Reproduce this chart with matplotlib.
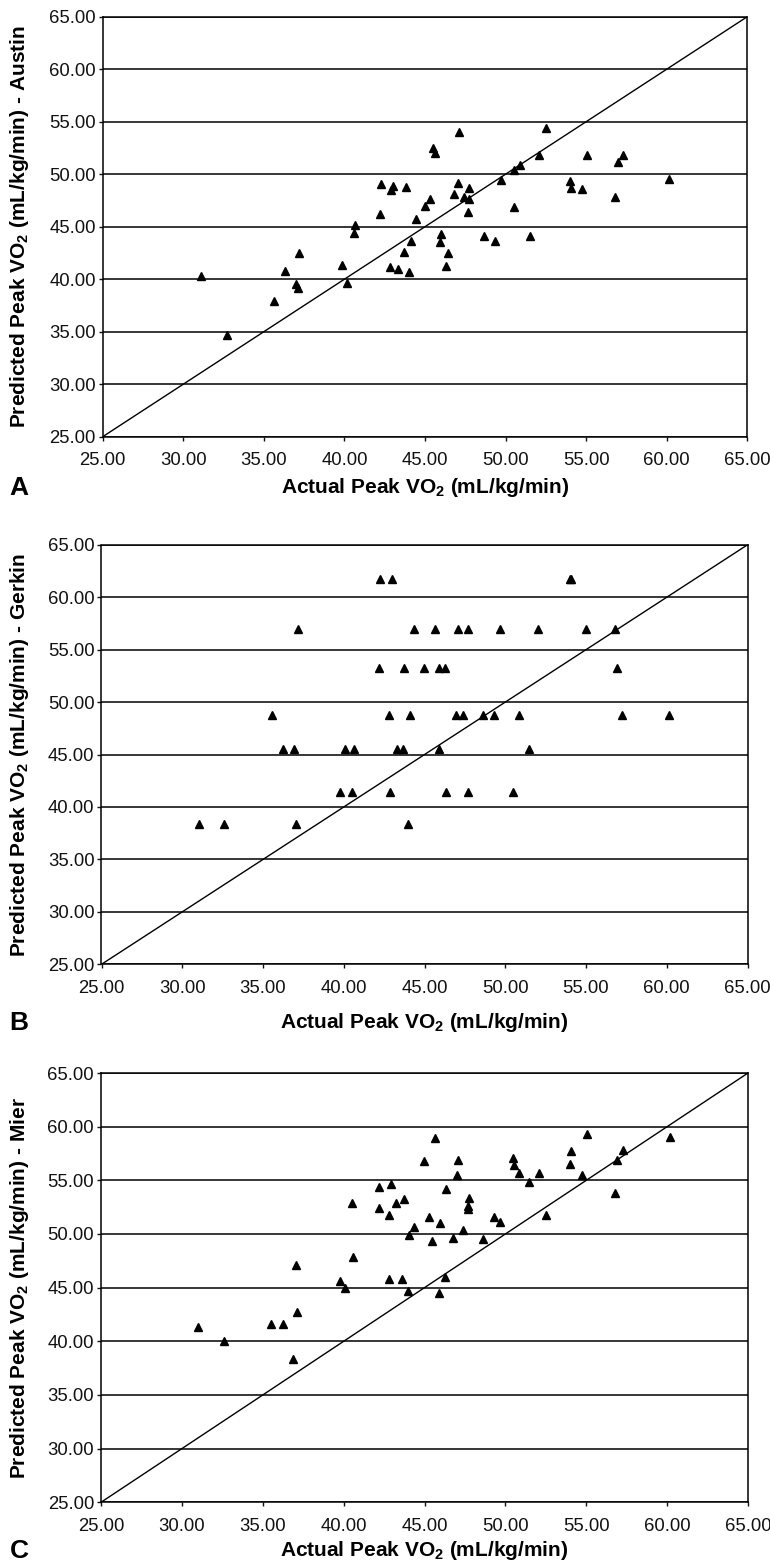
import matplotlib
matplotlib.use("Agg")
import matplotlib.pyplot as plt

plt.rcParams['font.family'] = ['Liberation Sans', 'DejaVu Sans']
plt.rcParams['mathtext.fontset'] = 'custom'
plt.rcParams['mathtext.rm'] = 'Liberation Sans'
plt.rcParams['mathtext.bf'] = 'Liberation Sans:bold'

# Panel A - Austin
actual_a = [31.1, 32.69, 35.64, 36.32, 36.98, 37.15, 37.21, 39.84, 40.15, 40.6,
            40.68, 42.21, 42.27, 42.85, 42.9, 43.0, 43.33, 43.68, 43.85, 44.0,
            44.11, 44.42, 45.02, 45.29, 45.5, 45.64, 45.91, 45.97, 46.3, 46.41,
            46.82, 47.05, 47.13, 47.42, 47.69, 47.71, 47.75, 48.66, 49.36, 49.71,
            50.52, 50.52, 50.87, 51.49, 52.07, 52.53, 53.97, 54.09, 54.73, 55.03,
            56.8, 56.95, 57.28, 60.17]
austin = [40.3, 34.69, 37.92, 40.78, 39.5, 39.2, 42.5, 41.35, 39.6, 44.4,
          45.16, 46.2, 49.04, 41.16, 48.5, 48.9, 40.94, 42.6, 48.75, 40.7,
          43.6, 45.7, 46.97, 47.67, 52.47, 51.99, 43.57, 44.3, 41.29, 42.5,
          48.08, 49.13, 54.05, 47.83, 46.4, 48.71, 47.67, 44.14, 43.67, 49.45,
          50.43, 46.85, 50.88, 44.14, 51.86, 54.43, 49.35, 48.69, 48.59, 51.86,
          47.86, 51.17, 51.86, 49.57]

# Panel B - Gerkin
actual_b = [31.03, 32.6, 35.56, 36.26, 36.92, 37.07, 37.15, 39.77, 40.08, 40.54,
            40.62, 42.17, 42.23, 42.81, 42.87, 42.98, 43.27, 43.64, 43.76, 43.97,
            44.09, 44.37, 44.96, 45.62, 45.87, 45.91, 46.26, 46.36, 46.98, 47.09,
            47.36, 47.67, 47.71, 48.62, 49.32, 49.67, 50.48, 50.85, 51.45, 52.05,
            54.0, 54.1, 55.01, 56.78, 56.93, 57.26, 60.17]
gerkin = [38.4, 38.4, 48.8, 45.5, 45.5, 38.4, 57.0, 41.4, 45.5, 41.4,
          45.5, 53.3, 61.7, 48.8, 41.4, 61.7, 45.5, 45.5, 53.3, 38.4,
          48.8, 57.0, 53.3, 57.0, 45.5, 53.3, 53.3, 41.4, 48.8, 57.0,
          48.8, 57.0, 41.4, 48.8, 48.8, 57.0, 41.4, 48.8, 45.5, 57.0,
          61.7, 61.7, 57.0, 57.0, 53.3, 48.8, 48.8]

# Panel C - Mier
actual_c = [30.99, 32.58, 35.54, 36.24, 36.9, 37.05, 37.13, 39.76, 40.08, 40.54,
            40.6, 42.17, 42.21, 42.79, 42.83, 42.95, 43.26, 43.62, 43.76, 43.95,
            44.07, 44.36, 44.96, 45.25, 45.48, 45.62, 45.87, 45.93, 46.26, 46.36,
            46.78, 47.0, 47.07, 47.38, 47.67, 47.71, 47.73, 48.64, 49.32, 49.67,
            50.48, 50.52, 50.87, 51.47, 52.05, 52.5, 53.97, 54.08, 54.74, 55.03,
            56.8, 56.93, 57.28, 60.19]
mier = [41.36, 40.06, 41.61, 41.61, 38.38, 47.11, 42.7, 45.59, 44.94, 52.86,
        47.83, 54.38, 52.42, 45.78, 51.8, 54.63, 52.89, 45.78, 53.23, 44.69,
        49.94, 50.65, 56.8, 51.55, 49.32, 58.97, 44.47, 51.05, 45.99, 54.19,
        49.65, 55.53, 56.9, 50.37, 52.36, 52.64, 53.33, 49.56, 51.55, 51.12,
        57.06, 56.43, 55.65, 54.85, 55.65, 51.8, 56.52, 57.76, 55.47, 59.32,
        53.82, 56.9, 57.83, 59.07]

ticks = [25, 30, 35, 40, 45, 50, 55, 60, 65]
tick_labels = [f"{t:.2f}" for t in ticks]

panels = [
    ("A", actual_a, austin, "Austin"),
    ("B", actual_b, gerkin, "Gerkin"),
    ("C", actual_c, mier, "Mier"),
]

W, H = 770, 1565
# axes boxes in pixels: left, top, right, bottom ; xlabel centre y
boxes = [
    (102.7, 16.7, 747.3, 436.7, 487.5),
    (101.5, 544.8, 747.5, 964.3, 1022.5),
    (101.0, 1073.0, 748.0, 1502.3, 1551.0),
]

fig = plt.figure(figsize=(W / 100, H / 100), dpi=100)

for (letter, xs, ys, name), (l, t, r, b, ly) in zip(panels, boxes):
    ax = fig.add_axes([l / W, 1 - b / H, (r - l) / W, (b - t) / H])
    ax.set_xlim(25, 65)
    ax.set_ylim(25, 65)
    ax.set_xticks(ticks)
    ax.set_xticklabels(tick_labels)
    ax.set_yticks(ticks)
    ax.set_yticklabels(tick_labels)
    ax.yaxis.grid(True, color='black', linewidth=1.1)
    ax.set_axisbelow(True)
    ax.tick_params(axis='both', direction='out', length=3, width=1,
                   labelsize=13.3, colors='#111111')
    ax.tick_params(axis='x', pad=8)
    ax.tick_params(axis='y', pad=2)
    for s in ax.spines.values():
        s.set_linewidth(1.1)
        s.set_color('black')

    # line of identity
    ax.plot([25, 65], [25, 65], color='black', linewidth=1.0)
    ax.plot(xs, ys, linestyle='none', marker='^', markersize=6,
            color='black')

    ax.set_xlabel(r'Actual Peak VO$_\mathbf{2}$ (mL/kg/min)',
                  fontsize=15, fontweight='bold')
    ax.xaxis.set_label_coords(0.5, (b - ly) / (b - t))
    ax.xaxis.label.set_va('center')
    ax.set_ylabel(r'Predicted Peak VO$_\mathbf{2}$ (mL/kg/min) - ' + name,
                  fontsize=15, fontweight='bold')
    ax.yaxis.set_label_coords((19.5 - l) / (r - l), 0.5)
    ax.yaxis.label.set_va('center')

    fig.text(19 / W, 1 - (ly + 0.5) / H, letter, fontsize=19,
             fontweight='bold', ha='center', va='center')

fig.savefig('out.png', dpi=100)
